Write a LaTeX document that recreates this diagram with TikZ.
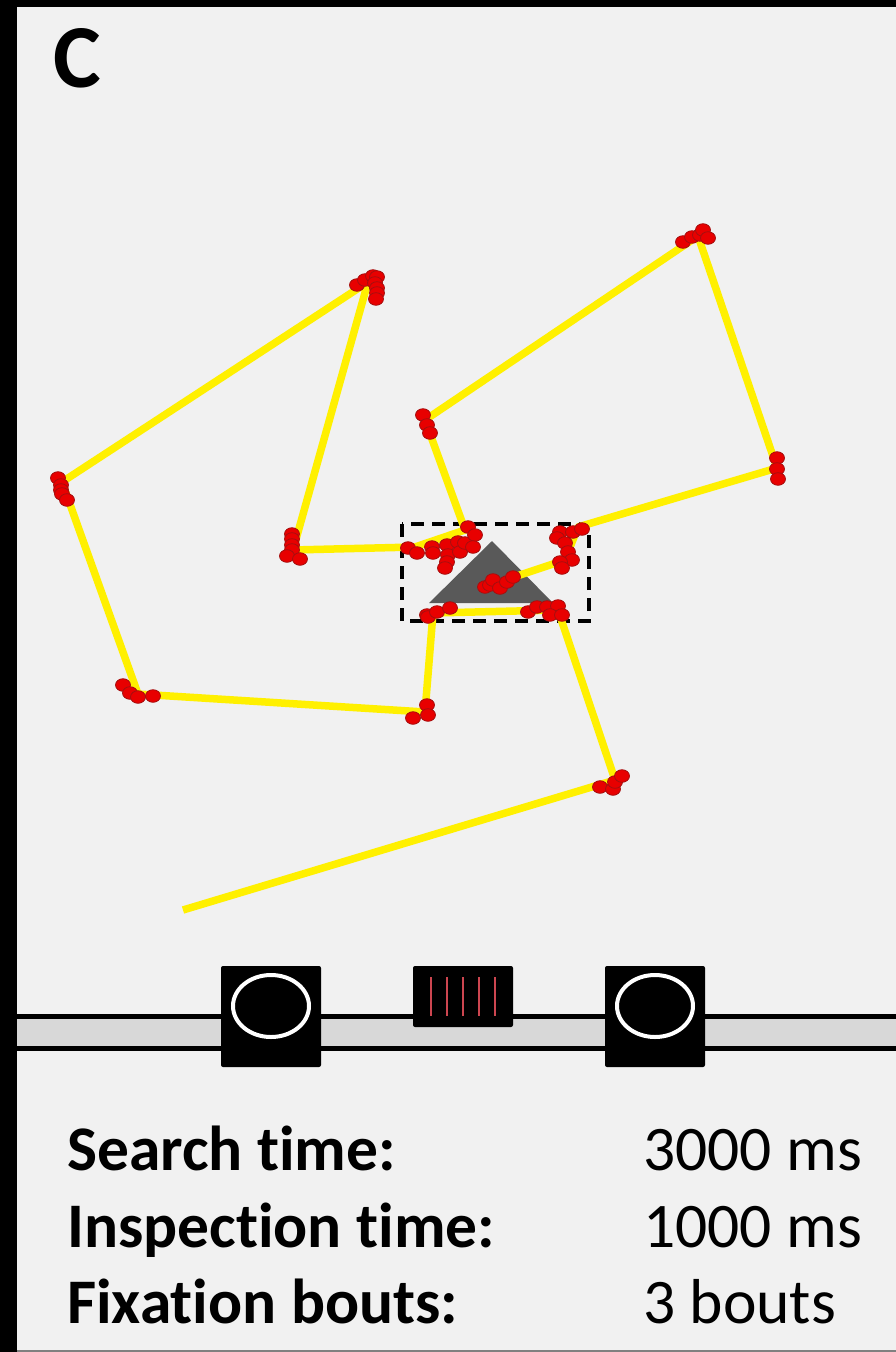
\documentclass[tikz,border=0pt]{standalone}
\usepackage{fontspec}
\setmainfont[Ligatures=NoCommon]{Carlito}
\definecolor{bg}{RGB}{241,241,241}
\definecolor{bandgray}{RGB}{216,216,216}
\definecolor{scanyellow}{RGB}{255,240,0}
\definecolor{fixred}{RGB}{232,0,0}
\definecolor{fixdark}{RGB}{165,15,15}
\definecolor{trigray}{RGB}{89,89,89}
\definecolor{barred}{RGB}{205,70,80}
\begin{document}
\begin{tikzpicture}[x=1pt,y=-1pt,
  fix/.style={fill=fixred,draw=fixdark,line width=0.8pt},
  scan/.style={draw=scanyellow,line width=7.5pt,line join=round},
  stimbox/.style={fill=black,rounded corners=2pt},
  ring/.style={draw=white,line width=4pt},
  lbl/.style={anchor=base west,inner sep=0pt,font=\fontsize{63.5}{70}\selectfont\bfseries},
  val/.style={anchor=base west,inner sep=0pt,font=\fontsize{63.5}{70}\selectfont}]
\useasboundingbox (0,0) rectangle (896,1352);
% background and frame
\fill[bg] (0,0) rectangle (896,1352);
\fill[black] (0,0) rectangle (17,1352);
\fill[black] (0,0) rectangle (896,7);
\fill[gray] (17,1349.5) rectangle (896,1352);
% panel letter
\node[anchor=base west,inner sep=0pt,font=\fontsize{90}{95}\selectfont\bfseries] (letter) at (53,87) {C};
% target triangle
\fill[trigray] (492,541) -- (553,603) -- (429,603) -- cycle;
% inspection region
\draw[black,line width=4pt,dash pattern=on 13pt off 8pt] (402,524) rectangle (589,621);
% scanpath
\coordinate (p0) at (183,910);
\coordinate (p1) at (615,780);
\coordinate (p2) at (558,610);
\coordinate (p3) at (433,613);
\coordinate (p4) at (425,712);
\coordinate (p5) at (138,694);
\coordinate (p6) at (62,482);
\coordinate (p7) at (368,282);
\coordinate (p8) at (293,550);
\coordinate (p9) at (415,547);
\coordinate (p10) at (465,530);
\coordinate (p11) at (425,420);
\coordinate (p12) at (698,236);
\coordinate (p13) at (777,468);
\coordinate (p14) at (578,527);
\coordinate (p15) at (565,560);
\coordinate (p16) at (505,580);
\draw[scan] (p0) -- (p1) -- (p2) -- (p3) -- (p4) -- (p5) -- (p6) -- (p7) -- (p8)
  -- (p9) -- (p10) -- (p11) -- (p12) -- (p13) -- (p14) -- (p15) -- (p16);
% fixations
\foreach \x/\y in {
  600/787,613/789,615/782,622/776,
  528/612,537/607,547/607,558/606,550/615,562/615,
  427/615,428/617,437/612,450/608,
  427/705,428/715,413/718,
  123/685,130/693,138/697,153/696,
  58/478,61/485,61/490,62/494,67/500,
  357/285,365/280,373/276,377/277,375/283,377/288,377/293,376/299,
  292/534,292/539,292/545,292/550,287/556,300/559,
  408/548,417/553,432/547,433/553,447/545,448/555,447/562,445/568,
  458/542,460/552,465/543,468/527,475/535,473/547,
  423/415,427/425,430/433,
  683/242,692/237,700/235,703/230,708/238,
  777/458,777/469,778/479,
  560/532,573/532,582/529,557/538,565/543,568/552,572/560,560/562,562/568,
  485/587,490/585,493/580,500/588,507/582,513/577}
  \filldraw[fix] (\x,\y) ellipse (7.5 and 6.3);
% timeline band
\fill[bandgray] (17,1019) rectangle (896,1046);
\fill[black] (17,1014) rectangle (896,1019);
\fill[black] (17,1046) rectangle (896,1051);
% stimulus boxes
\fill[stimbox] (221,966) rectangle (321,1067);
\draw[ring] (271,1006) ellipse (38 and 31);
\fill[stimbox] (413,966) rectangle (513,1027);
\foreach \x in {431,447,463,479,495}
  \draw[barred,line width=2pt] (\x,977) -- (\x,1016);
\fill[stimbox] (605,966) rectangle (705,1067);
\draw[ring] (655,1006) ellipse (38 and 31);
% labels
\node[lbl] (l1) at (67,1170) {Search time:};
\node[lbl] (l2) at (67,1247) {Inspection time:};
\node[lbl] (l3) at (67,1323) {Fixation bouts:};
\node[val] (v1) at (643,1170) {3000 ms};
\node[val] (v2) at (643,1247) {1000 ms};
\node[val] (v3) at (643,1323) {3 bouts};
\end{tikzpicture}
\end{document}
